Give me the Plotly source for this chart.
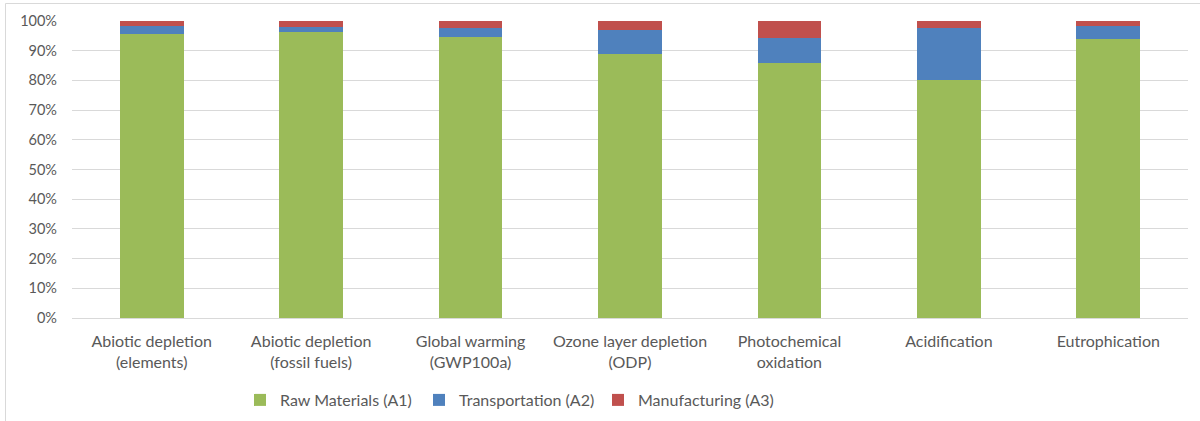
import plotly.graph_objects as go

categories = [
    "Abiotic depletion<br>(elements)",
    "Abiotic depletion<br>(fossil fuels)",
    "Global warming<br>(GWP100a)",
    "Ozone layer depletion<br>(ODP)",
    "Photochemical<br>oxidation",
    "Acidification",
    "Eutrophication",
]
raw_materials = [95.7, 96.4, 94.6, 89.0, 85.7, 80.0, 93.8]
transportation = [2.6, 1.5, 2.9, 8.1, 8.7, 17.5, 4.5]
manufacturing = [1.7, 2.1, 2.5, 2.9, 5.6, 2.5, 1.7]

W, H = 1200, 421
L, R, T, B = 72, 12, 21, 103
pw, ph = W - L - R, H - T - B

fig = go.Figure()
for name, vals, color in [
    ("Raw Materials (A1)", raw_materials, "#9BBB59"),
    ("Transportation (A2)", transportation, "#4F81BD"),
    ("Manufacturing (A3)", manufacturing, "#C0504D"),
]:
    fig.add_trace(go.Bar(x=categories, y=vals, name=name, marker_color=color,
                         marker_line_width=0))

font_family = "Lato, 'Open Sans', sans-serif"


def px_x(x):
    return (x - L) / pw


def px_y(y):
    return (H - B - y) / ph


# outer chart-area frame (left and top edges)
fig.add_shape(type="line", xref="paper", yref="paper",
              x0=px_x(5.5), x1=px_x(5.5), y0=px_y(3.5), y1=px_y(430),
              line=dict(color="#D9D9D9", width=1))
fig.add_shape(type="line", xref="paper", yref="paper",
              x0=px_x(5.5), x1=px_x(1210), y0=px_y(3.5), y1=px_y(3.5),
              line=dict(color="#D9D9D9", width=1))

fig.update_layout(
    width=W, height=H,
    margin=dict(l=L, r=R, t=T, b=B),
    barmode="stack",
    bargap=0.6,
    plot_bgcolor="white",
    paper_bgcolor="white",
    font=dict(family=font_family, color="#595959", size=14),
    legend=dict(orientation="h",
                xref="container", x=240 / W, xanchor="left",
                yref="container", y=1 - 383 / H, yanchor="top",
                font=dict(size=16, color="#595959"),
                itemwidth=30, traceorder="normal",
                entrywidth=134, entrywidthmode="pixels"),
    xaxis=dict(showgrid=False, showline=True, linecolor="#D9D9D9",
               linewidth=1, ticks="", tickfont=dict(size=16),
               ticklabelstandoff=9, fixedrange=True, automargin=False),
    yaxis=dict(range=[0, 100], dtick=10, ticksuffix="%",
               showgrid=True, gridcolor="#D9D9D9", gridwidth=1,
               zeroline=False, showline=False, ticks="",
               ticklabelstandoff=14, tickfont=dict(size=14.5),
               automargin=False),
)

fig.write_html("out.html")
